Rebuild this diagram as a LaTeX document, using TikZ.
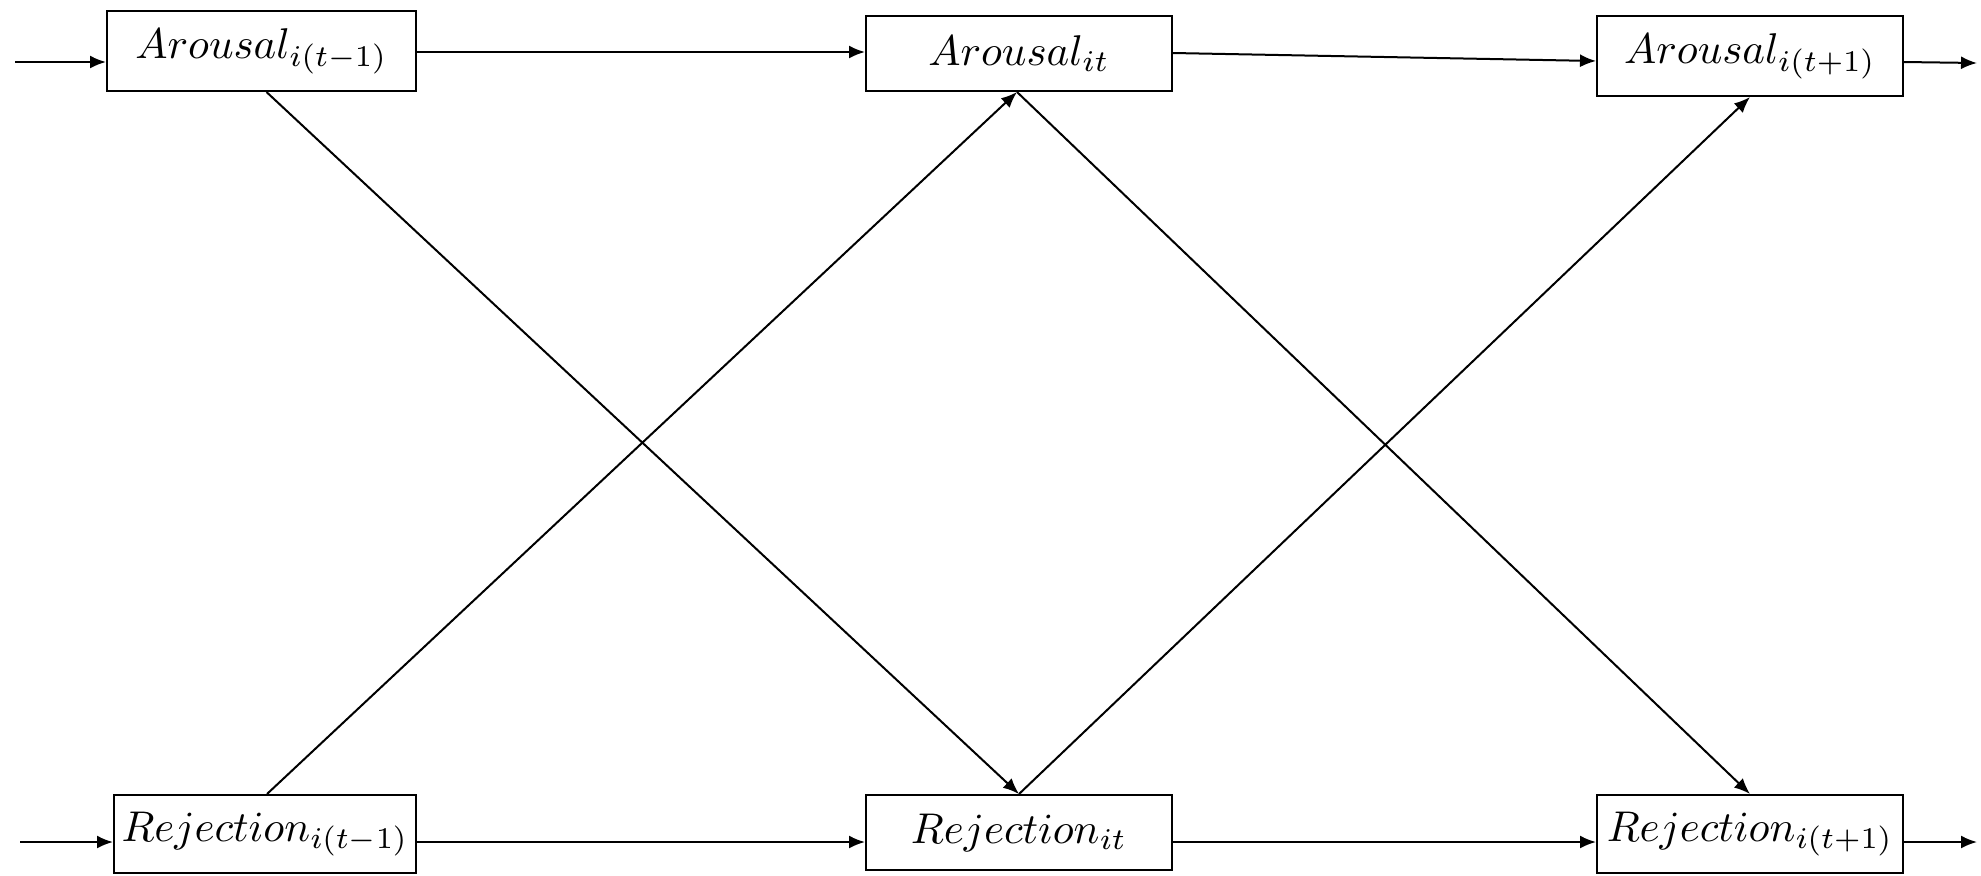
\documentclass[tikz,border=0pt]{standalone}
\usepackage{graphicx}
\usetikzlibrary{arrows.meta}
\newcommand{\boxlabel}[1]{\scalebox{2.15}{$#1$}}
\begin{document}
\begin{tikzpicture}[x=0.5pt,y=-0.5pt,
  box/.style={draw,line width=1pt,rectangle,inner sep=0pt},
  arr/.style={line width=1pt,-{Latex[length=8pt,width=6.5pt]}}]
\useasboundingbox (0,0) rectangle (1981,875);
\node[box,minimum width=154.5pt,minimum height=40pt] (A1) at (261.5,51) {\boxlabel{Arousal_{i(t-1)}}};
\node[box,minimum width=153pt,minimum height=37.5pt] (A2) at (1019,53.5) {\boxlabel{Arousal_{it}}};
\node[box,minimum width=153pt,minimum height=40pt] (A3) at (1750,56) {\boxlabel{Arousal_{i(t+1)}}};
\node[box,minimum width=151pt,minimum height=39pt] (R1) at (265,834) {\boxlabel{Rejection_{i(t-1)}}};
\node[box,minimum width=153pt,minimum height=37.5pt] (R2) at (1019,832.5) {\boxlabel{Rejection_{it}}};
\node[box,minimum width=153pt,minimum height=39pt] (R3) at (1750,834) {\boxlabel{Rejection_{i(t+1)}}};
\coordinate (ainL) at (15,62);
\coordinate (aoutR) at (1977,63);
\coordinate (rl) at (0,842);
\coordinate (rinL) at (20,842);
\coordinate (routR) at (1977,842);
% top row
\draw[arr] (ainL) -- (ainL -| A1.west);
\draw[arr] (A1.east |- 0,52) -- (A2.west |- 0,52);
\draw[arr] (A2.east |- 0,53) -- (A3.west |- 0,61);
\draw[arr] (A3.east |- 0,62) -- (aoutR);
% bottom row
\draw[arr] (rinL) -- (rinL -| R1.west);
\draw[arr] (R1.east |- rl) -- (R2.west |- rl);
\draw[arr] (R2.east |- rl) -- (R3.west |- rl);
\draw[arr] (R3.east |- rl) -- (routR);
% diagonals
\draw[arr] ([xshift=2.5pt]A1.south) -- (R2.north);
\draw[arr] ([xshift=1pt]R1.north) -- ([xshift=-1pt]A2.south);
\draw[arr] ([xshift=-1pt]A2.south) -- (R3.north);
\draw[arr] (R2.north) -- (A3.south);
\end{tikzpicture}
\end{document}
